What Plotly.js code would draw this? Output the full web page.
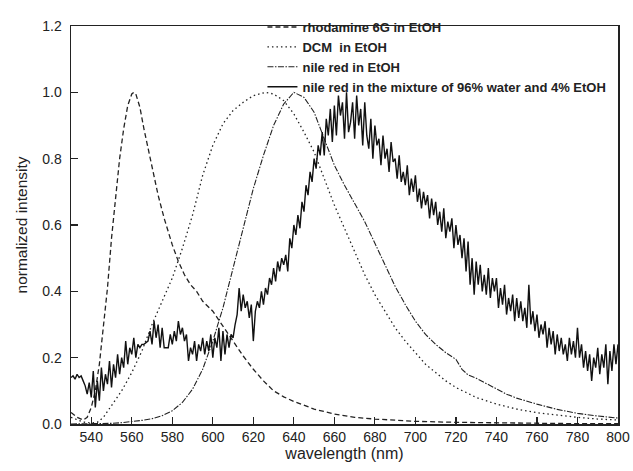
<!DOCTYPE html>
<html>
<head>
<meta charset="utf-8">
<script src="https://cdn.plot.ly/plotly-3.0.1.min.js"></script>
<style>html,body{margin:0;padding:0;background:#fff;}#chart{width:633px;height:471px;}</style>
</head>
<body>
<div id="chart"></div>
<script>
// Rhodamine 6G in EtOH (dashed)
var r6gX = [530,533,536,538,540,542,544,546,548,550,552,554,556,558,560,561,562,564,566,568,570,573,576,578,580,583,586,589,592,595,600,605,610,615,620,625,630,635,640,650,660,670,680,700,720,740,760,780,800];
var r6gY = [0.035,0.02,0.012,0.02,0.05,0.10,0.18,0.29,0.41,0.56,0.68,0.80,0.89,0.96,0.995,1.0,0.995,0.955,0.89,0.83,0.77,0.69,0.62,0.58,0.54,0.49,0.45,0.42,0.40,0.37,0.34,0.295,0.25,0.205,0.165,0.13,0.10,0.082,0.068,0.045,0.03,0.02,0.015,0.008,0.005,0.003,0.002,0.001,0.001];

// DCM in EtOH (dotted)
var dcmX = [530,533,536,540,543,546,550,555,560,565,570,575,580,585,590,595,600,605,610,615,620,626,630,635,640,645,650,655,660,665,670,675,680,685,690,695,700,705,710,715,720,725,730,740,750,760,770,780,790,800];
var dcmY = [0.02,0.012,0.006,0.003,0.005,0.02,0.055,0.10,0.155,0.22,0.30,0.37,0.44,0.53,0.63,0.75,0.84,0.905,0.945,0.97,0.99,1.0,0.995,0.975,0.935,0.88,0.82,0.74,0.66,0.59,0.52,0.45,0.39,0.34,0.29,0.25,0.215,0.18,0.155,0.13,0.11,0.095,0.08,0.06,0.045,0.034,0.026,0.02,0.015,0.012];

// nile red in EtOH (dash-dot)
var nrX = [530,540,550,555,560,565,570,575,580,585,590,595,600,605,610,615,620,625,630,635,640,645,650,655,660,665,670,675,680,685,690,695,700,705,710,715,720,723,726,730,735,740,745,750,755,760,770,780,790,800];
var nrY = [0.0,0.0,0.002,0.004,0.007,0.011,0.016,0.025,0.04,0.065,0.105,0.165,0.25,0.35,0.47,0.59,0.71,0.81,0.9,0.965,1.0,0.985,0.94,0.86,0.78,0.72,0.665,0.61,0.545,0.48,0.415,0.36,0.31,0.27,0.24,0.215,0.195,0.165,0.148,0.138,0.122,0.105,0.09,0.078,0.068,0.06,0.044,0.032,0.024,0.018];

// nile red in 96% water / 4% EtOH (solid, noisy), 1 nm steps from 530 nm
var mixStart = 530, mixStep = 1;
var mixY = [
0.14,0.145,0.135,0.15,0.14,0.145,0.13,0.115,0.09,0.125,
0.08,0.16,0.05,0.13,0.07,0.17,0.10,0.15,0.12,0.19,
0.11,0.18,0.14,0.21,0.15,0.20,0.17,0.25,0.18,0.23,
0.21,0.26,0.20,0.24,0.23,0.24,0.24,0.245,0.25,0.28,
0.24,0.31,0.26,0.30,0.23,0.29,0.23,0.23,0.23,0.27,
0.24,0.28,0.25,0.31,0.27,0.29,0.25,0.27,0.19,0.23,
0.21,0.25,0.19,0.24,0.22,0.26,0.21,0.25,0.22,0.27,
0.20,0.26,0.23,0.29,0.19,0.28,0.21,0.27,0.23,0.27,
0.26,0.30,0.33,0.41,0.34,0.39,0.35,0.37,0.32,0.36,
0.25,0.34,0.37,0.35,0.40,0.36,0.41,0.39,0.44,0.42,
0.47,0.43,0.49,0.46,0.50,0.48,0.51,0.46,0.56,0.53,
0.60,0.57,0.63,0.59,0.67,0.64,0.72,0.69,0.76,0.73,
0.80,0.77,0.84,0.81,0.88,0.81,0.92,0.87,0.95,0.85,
0.96,0.87,0.99,0.93,0.97,0.86,1.00,0.88,0.91,0.97,
0.86,0.99,0.90,0.95,0.84,0.97,0.87,0.83,0.92,0.80,
0.90,0.84,0.86,0.78,0.87,0.80,0.83,0.76,0.85,0.79,
0.80,0.74,0.81,0.73,0.76,0.72,0.78,0.69,0.74,0.70,
0.75,0.67,0.71,0.65,0.70,0.66,0.69,0.62,0.68,0.63,
0.67,0.60,0.64,0.58,0.65,0.56,0.61,0.58,0.62,0.53,
0.60,0.54,0.57,0.50,0.56,0.46,0.55,0.42,0.50,0.39,
0.49,0.42,0.48,0.40,0.45,0.39,0.47,0.38,0.44,0.40,
0.44,0.35,0.41,0.36,0.42,0.33,0.38,0.34,0.39,0.31,
0.38,0.32,0.37,0.31,0.35,0.29,0.42,0.30,0.34,0.28,
0.33,0.26,0.30,0.27,0.31,0.23,0.29,0.24,0.28,0.21,
0.27,0.22,0.26,0.21,0.24,0.19,0.26,0.21,0.25,0.20,
0.29,0.20,0.24,0.17,0.22,0.16,0.21,0.13,0.20,0.17,
0.23,0.15,0.21,0.17,0.24,0.12,0.22,0.16,0.24,0.18,
0.24];

var names = ['<b>rhodamine 6G in EtOH</b>', '<b>DCM  in EtOH</b>', '<b>nile red in EtOH</b>', '<b>nile red in the mixture of 96% water and 4% EtOH</b>'];

var traces = [
  {x: r6gX, y: r6gY, mode: 'lines', name: names[0], line: {color: '#222', width: 1.3, dash: '5px,3px'}},
  {x: dcmX, y: dcmY, mode: 'lines', name: names[1], line: {color: '#222', width: 1.3, dash: '1.5px,3px'}},
  {x: nrX, y: nrY, mode: 'lines', name: names[2], line: {color: '#222', width: 1.1, dash: '6px,1.5px,1.5px,1.5px'}},
  {x0: mixStart, dx: mixStep, y: mixY, mode: 'lines', name: names[3], line: {color: '#111', width: 1.4}}
];

var fontFam = '"Liberation Sans", Arial, sans-serif';
var layout = {
  width: 633, height: 471,
  margin: {l: 71, r: 15, t: 21, b: 47},
  paper_bgcolor: '#fff', plot_bgcolor: '#fff',
  font: {family: fontFam, color: '#222'},
  showlegend: true,
  legend: {x: 0.35, y: 1.035, xanchor: 'left', yanchor: 'top', bgcolor: 'rgba(0,0,0,0)',
           font: {family: fontFam, size: 13, color: '#222'}, itemwidth: 30, tracegroupgap: 0},
  xaxis: {range: [530, 800], tick0: 540, dtick: 20, ticks: 'inside', ticklen: 7, tickwidth: 1.2,
          tickcolor: '#222', showline: true, linecolor: '#222', linewidth: 1.5, mirror: true,
          showgrid: false, zeroline: false, tickfont: {size: 14, color: '#222'},
          title: {text: 'wavelength (nm)', font: {size: 16, color: '#222'}, standoff: 3}},
  yaxis: {range: [0, 1.2], dtick: 0.2, tickformat: '.1f', ticks: 'inside', ticklen: 7, tickwidth: 1.2,
          tickcolor: '#222', showline: true, linecolor: '#222', linewidth: 1.5, mirror: true,
          showgrid: false, zeroline: false, tickfont: {size: 14, color: '#222'}, ticklabelstandoff: 5,
          title: {text: 'normalized intensity', font: {size: 15.5, color: '#222'}, standoff: 11}}
};

Plotly.newPlot('chart', traces, layout, {displayModeBar: false, staticPlot: true});
</script>
</body>
</html>
